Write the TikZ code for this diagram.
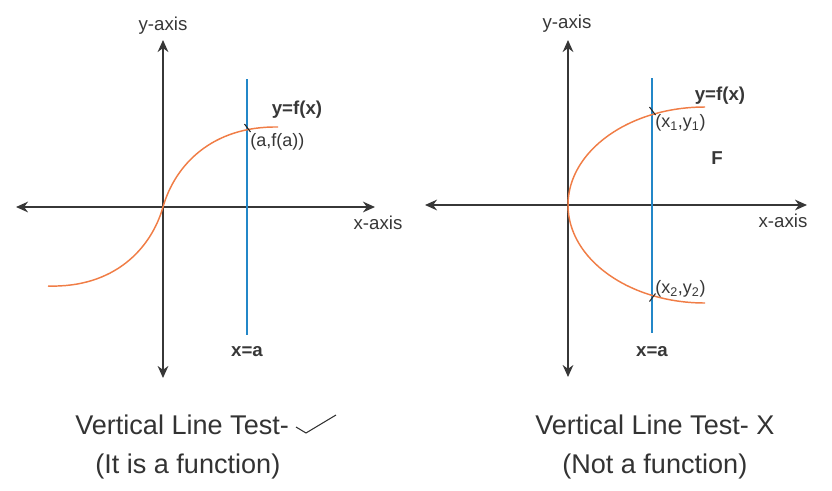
\documentclass[tikz,border=0pt]{standalone}
\usepackage{xcolor}
\usepackage{fontspec}
\setmainfont{Liberation Sans}
\usepackage{tikz}
\usetikzlibrary{arrows.meta, positioning}

\definecolor{axisgray}{RGB}{55,55,55}
\definecolor{curveorange}{RGB}{240,125,70}
\definecolor{lineblue}{RGB}{35,135,200}

\begin{document}
\begin{tikzpicture}[x=0.75pt, y=-0.75pt,
    axisline/.style={draw=axisgray, line width=1.3pt, {Stealth[length=9pt, width=8pt]}-{Stealth[length=9pt, width=8pt]}},
    testline/.style={draw=lineblue, line width=1.1pt},
    curveline/.style={draw=curveorange, line width=1.1pt},
    crossmark/.style={draw=black!85, line width=0.8pt},
    axislabel/.style={text=axisgray, font=\fontsize{14}{16}\selectfont, inner sep=0pt},
    pointlabel/.style={text=axisgray, font=\fontsize{13.5}{16}\selectfont, inner sep=0pt, anchor=west},
    boldlabel/.style={text=axisgray, font=\fontsize{14}{16}\selectfont\bfseries, inner sep=0pt},
    caption/.style={text=black!80, font=\fontsize{20.3}{24}\selectfont, inner sep=0pt, anchor=base west}]
    \useasboundingbox (0,0) rectangle (832,490);

    % left graph: it is a function
    \coordinate (ly top) at (163,40);
    \coordinate (ly bot) at (163,378);
    \coordinate (lx left) at (16,207);
    \coordinate (lx right) at (375,207);
    \draw[axisline] (ly bot) -- (ly top);
    \draw[axisline] (lx left) -- (lx right);
    \coordinate (lblue top) at (247,79);
    \coordinate (lblue bot) at (247,335);
    \draw[testline] (lblue top) -- (lblue bot);
    \coordinate (lorigin) at (163,207);
    \draw[curveline] (48,286) .. controls (114,288) and (151,249) .. (lorigin)
        .. controls (175,165) and (212,126) .. (278,127);
    \coordinate (lhit) at (247.5,128);
    \draw[crossmark] ([shift={(-3,-4)}]lhit) -- ([shift={(3,4)}]lhit);
    \node[axislabel] (lylabel) at (163,26) {y-axis};
    \node[axislabel] (lxlabel) at (378,223) {x-axis};
    \node[boldlabel] (lfunc) at (297,110) {y=f(x)};
    \node[pointlabel] (lpoint) at (250,142) {(a,f(a))};
    \node[boldlabel] (lxa) at (247,352) {x=a};

    % right graph: not a function
    \coordinate (ry top) at (568,40);
    \coordinate (ry bot) at (568,377);
    \coordinate (rx left) at (425,205);
    \coordinate (rx right) at (807,205);
    \draw[axisline] (ry bot) -- (ry top);
    \draw[axisline] (rx left) -- (rx right);
    \coordinate (rblue top) at (652,78);
    \coordinate (rblue bot) at (652,333);
    \draw[testline] (rblue top) -- (rblue bot);
    \draw[curveline] (705,107) arc[start angle=270, end angle=90, x radius=137, y radius=98];
    \coordinate (rhit1) at (652.5,111);
    \coordinate (rhit2) at (652.5,297.5);
    \draw[crossmark] ([shift={(-3,-4)}]rhit1) -- ([shift={(3,4)}]rhit1);
    \draw[crossmark] ([shift={(-3,4)}]rhit2) -- ([shift={(3,-4)}]rhit2);
    \node[axislabel] (rylabel) at (567,24) {y-axis};
    \node[axislabel] (rxlabel) at (783,221) {x-axis};
    \node[boldlabel] (rfunc) at (720,96) {y=f(x)};
    \node[pointlabel] (rpoint1) at (655,123) {(x\textsubscript{1},y\textsubscript{1})};
    \node[boldlabel] (rF) at (717,158) {F};
    \node[pointlabel] (rpoint2) at (655,289) {(x\textsubscript{2},y\textsubscript{2})};
    \node[boldlabel] (rxa) at (652,352) {x=a};

    % captions
    \node[caption] (lcap1) at (75,434) {Vertical Line Test-};
    \draw[black!80, line width=0.8pt] (296,427) -- (306,433) -- (336,415);
    \node[caption] (lcap2) at (95,473) {(It is a function)};
    \node[caption] (rcap1) at (535,434) {Vertical Line Test- X};
    \node[caption] (rcap2) at (562,473) {(Not a function)};
\end{tikzpicture}
\end{document}
